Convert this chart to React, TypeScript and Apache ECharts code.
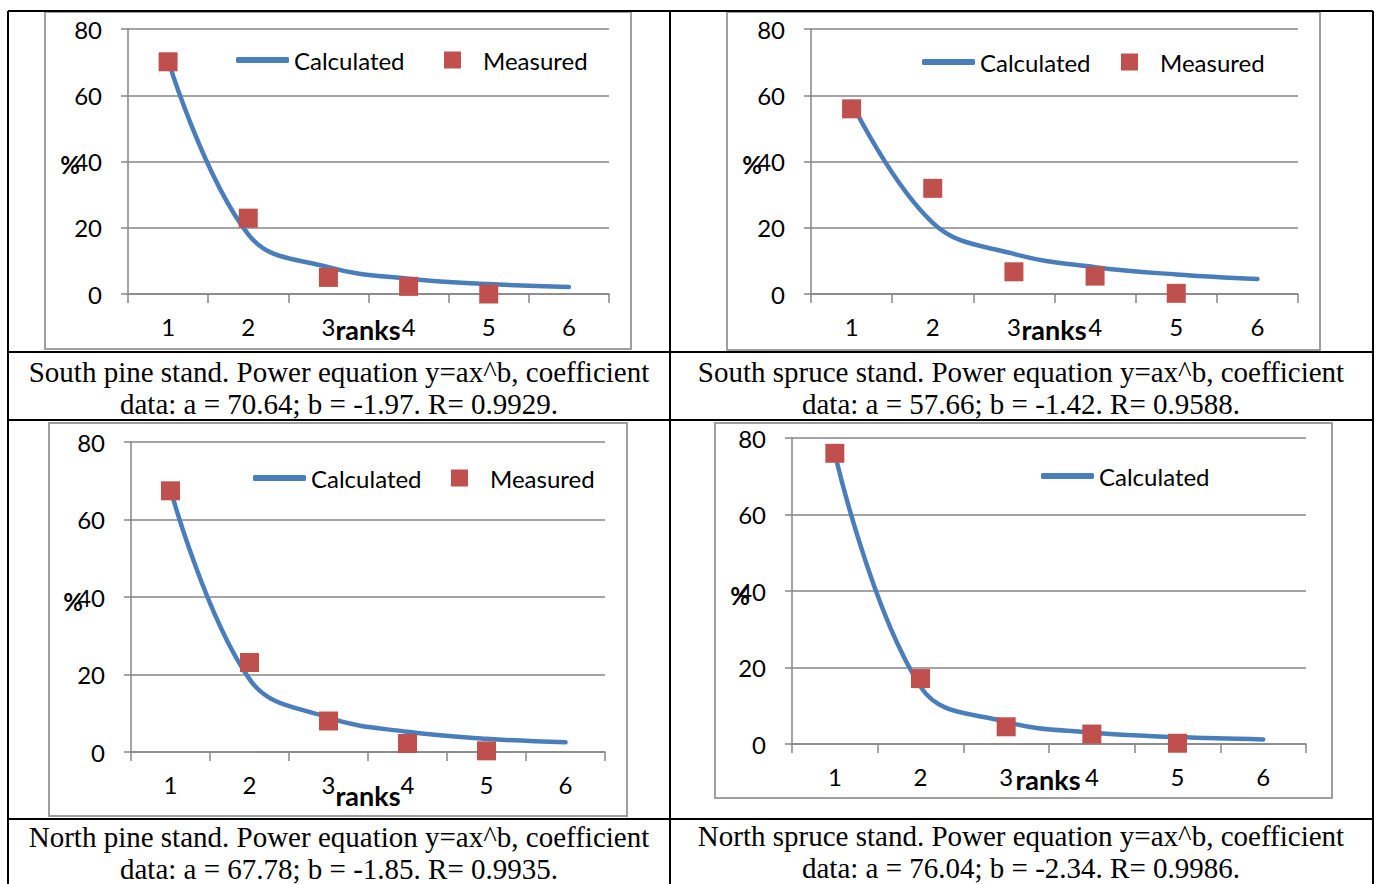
import React, { useEffect, useRef } from "react";
import * as echarts from "echarts";

// ---------- data ----------
const categories = ["1", "2", "3", "4", "5", "6"];
const yMin = 0;
const yMax = 80;
const yStep = 20;

const southPineCalculated = [70.6, 18.0, 8.1, 4.6, 3.0, 2.1];
const southPineMeasured = [70.1, 22.9, 5.0, 2.3, 0.0];

const southSpruceCalculated = [57.7, 21.5, 12.1, 8.1, 5.9, 4.5];
const southSpruceMeasured = [55.9, 31.9, 6.7, 5.4, 0.2];

const northPineCalculated = [67.8, 18.8, 8.9, 5.2, 3.4, 2.5];
const northPineMeasured = [67.4, 23.1, 8.0, 2.2, 0.3];

const northSpruceCalculated = [76.0, 15.0, 5.8, 3.0, 1.8, 1.2];
const northSpruceMeasured = [76.0, 17.1, 4.5, 2.6, 0.2];

const seriesNames = ["Calculated", "Measured"];
const yAxisName = "%";
const xAxisName = "ranks";

const captionsSouthPine = [
  "South pine stand. Power equation y=ax^b, coefficient",
  "data: a = 70.64; b = -1.97. R= 0.9929.",
];
const captionsSouthSpruce = [
  "South spruce stand. Power equation y=ax^b, coefficient",
  "data: a = 57.66; b = -1.42. R= 0.9588.",
];
const captionsNorthPine = [
  "North pine stand. Power equation y=ax^b, coefficient",
  "data: a = 67.78; b = -1.85. R= 0.9935.",
];
const captionsNorthSpruce = [
  "North spruce stand. Power equation y=ax^b, coefficient",
  "data: a = 76.04; b = -2.34. R= 0.9986.",
];

// ---------- layout / style ----------
const BLUE = "#4A7EBB";
const RED = "#C0504D";
const GRID_GRAY = "#868686";
const FRAME_GRAY = "#9E9E9E";
const SANS = "Lato";
const SERIF = "Liberation Serif";

const panels = [
  {
    calc: southPineCalculated,
    meas: southPineMeasured,
    showMeasuredLegend: true,
    grid: { left: 128, top: 29, width: 481, height: 265 },
    frame: { x: 45, y: 12, w: 586, h: 337 },
    legendY: 60,
    calcLegendX: 236,
    measLegendX: 444,
    pct: [70, 164],
    ranks: [368, 329],
    caption: captionsSouthPine,
    capX: 339,
    capY: [372, 404],
  },
  {
    calc: southSpruceCalculated,
    meas: southSpruceMeasured,
    showMeasuredLegend: true,
    grid: { left: 811, top: 29, width: 487, height: 265 },
    frame: { x: 727, y: 12, w: 593, h: 338 },
    legendY: 62,
    calcLegendX: 922,
    measLegendX: 1121,
    pct: [752, 164],
    ranks: [1054, 329],
    caption: captionsSouthSpruce,
    capX: 1021,
    capY: [372, 404],
  },
  {
    calc: northPineCalculated,
    meas: northPineMeasured,
    showMeasuredLegend: true,
    grid: { left: 131, top: 442, width: 474, height: 310 },
    frame: { x: 49, y: 423, w: 578, h: 393 },
    legendY: 478,
    calcLegendX: 253,
    measLegendX: 451,
    pct: [73, 601],
    ranks: [368, 795],
    caption: captionsNorthPine,
    capX: 339,
    capY: [837, 869],
  },
  {
    calc: northSpruceCalculated,
    meas: northSpruceMeasured,
    showMeasuredLegend: false,
    grid: { left: 792, top: 438, width: 514, height: 306 },
    frame: { x: 715, y: 423, w: 617, h: 375 },
    legendY: 476,
    calcLegendX: 1041,
    measLegendX: 0,
    pct: [740, 595],
    ranks: [1048, 779],
    caption: captionsNorthSpruce,
    capX: 1021,
    capY: [836, 868],
  },
];

function buildOption() {
  const grid: any[] = [];
  const xAxis: any[] = [];
  const yAxis: any[] = [];
  const series: any[] = [];
  const legend: any[] = [];
  const graphic: any[] = [];

  // table borders
  const tableLines = [
    [8, 11, 1373, 11],
    [8, 11, 8, 884],
    [1373, 11, 1373, 884],
    [670, 11, 670, 884],
    [8, 352, 1373, 352],
    [8, 420, 1373, 420],
    [8, 819, 1373, 819],
  ];
  tableLines.forEach(([x1, y1, x2, y2]) =>
    graphic.push({
      type: "line",
      shape: { x1, y1, x2, y2 },
      style: { stroke: "#000", lineWidth: 2 },
      z: 0,
    })
  );

  panels.forEach((p, i) => {
    graphic.push({
      type: "rect",
      shape: { x: p.frame.x, y: p.frame.y, width: p.frame.w, height: p.frame.h },
      style: { fill: "#fff", stroke: FRAME_GRAY, lineWidth: 2 },
      z: -1,
    });
    graphic.push({
      type: "text",
      x: p.pct[0],
      y: p.pct[1],
      style: {
        text: yAxisName,
        fontFamily: SANS,
        fontWeight: "bold",
        fontSize: 24,
        fill: "#000",
        align: "center",
        verticalAlign: "middle",
      },
      z: 10,
    });
    graphic.push({
      type: "text",
      x: p.ranks[0],
      y: p.ranks[1],
      style: {
        text: xAxisName,
        fontFamily: SANS,
        fontWeight: "bold",
        fontSize: 27,
        fill: "#000",
        align: "center",
        verticalAlign: "middle",
      },
      z: 10,
    });
    p.caption.forEach((line, k) =>
      graphic.push({
        type: "text",
        x: p.capX,
        y: p.capY[k],
        style: {
          text: line,
          fontFamily: SERIF,
          fontSize: 29,
          fill: "#000",
          align: "center",
          verticalAlign: "middle",
        },
      })
    );

    grid.push({ ...p.grid, containLabel: false });
    xAxis.push({
      type: "category",
      gridIndex: i,
      data: categories,
      boundaryGap: true,
      axisLine: { show: true, lineStyle: { color: GRID_GRAY, width: 1.5 } },
      axisTick: { show: true, length: 9, lineStyle: { color: GRID_GRAY, width: 1.5 } },
      axisLabel: { color: "#000", fontFamily: SANS, fontSize: 24, margin: 20 },
      splitLine: { show: false },
    });
    yAxis.push({
      type: "value",
      gridIndex: i,
      min: yMin,
      max: yMax,
      interval: yStep,
      axisLine: { show: true, lineStyle: { color: GRID_GRAY, width: 1.5 } },
      axisTick: { show: true, length: 7, lineStyle: { color: GRID_GRAY, width: 1.5 } },
      axisLabel: { color: "#000", fontFamily: SANS, fontSize: 24, margin: 26 },
      splitLine: { show: true, lineStyle: { color: GRID_GRAY, width: 1.5 } },
    });
    series.push({
      name: seriesNames[0],
      type: "line",
      xAxisIndex: i,
      yAxisIndex: i,
      data: p.calc,
      smooth: 0.4,
      showSymbol: false,
      symbol: "none",
      lineStyle: { color: BLUE, width: 4.5, cap: "round", join: "round" },
      itemStyle: { color: BLUE },
      z: 2,
    });
    series.push({
      name: seriesNames[1],
      type: "scatter",
      xAxisIndex: i,
      yAxisIndex: i,
      data: p.meas,
      symbol: "rect",
      symbolSize: 19,
      itemStyle: { color: RED, opacity: 1 },
      z: 3,
    });

    legend.push({
      data: [seriesNames[0]],
      left: p.calcLegendX,
      top: p.legendY - 12,
      padding: 0,
      icon: "roundRect",
      itemWidth: 53,
      itemHeight: 6,
      selectedMode: false,
      textStyle: { fontFamily: SANS, fontSize: 24, color: "#000", lineHeight: 24 },
    });
    if (p.showMeasuredLegend) {
      legend.push({
        data: [seriesNames[1]],
        left: p.measLegendX,
        top: p.legendY - 12,
        padding: 0,
        icon: "rect",
        itemWidth: 17,
        itemHeight: 17,
        selectedMode: false,
        itemStyle: { color: RED },
        textStyle: {
          fontFamily: SANS,
          fontSize: 24,
          color: "#000",
          lineHeight: 24,
          padding: [0, 0, 0, 17],
        },
      });
    }
  });

  return {
    animation: false,
    backgroundColor: "#fff",
    grid,
    xAxis,
    yAxis,
    series,
    legend,
    graphic,
  };
}

export default function App() {
  const ref = useRef<HTMLDivElement>(null);
  useEffect(() => {
    if (!ref.current) return;
    const chart = echarts.init(ref.current, undefined, { renderer: "svg" });
    chart.setOption(buildOption() as any);
    return () => chart.dispose();
  }, []);
  return (
    <div
      ref={ref}
      style={{ position: "absolute", left: 0, top: 0, width: 1380, height: 884 }}
    />
  );
}
